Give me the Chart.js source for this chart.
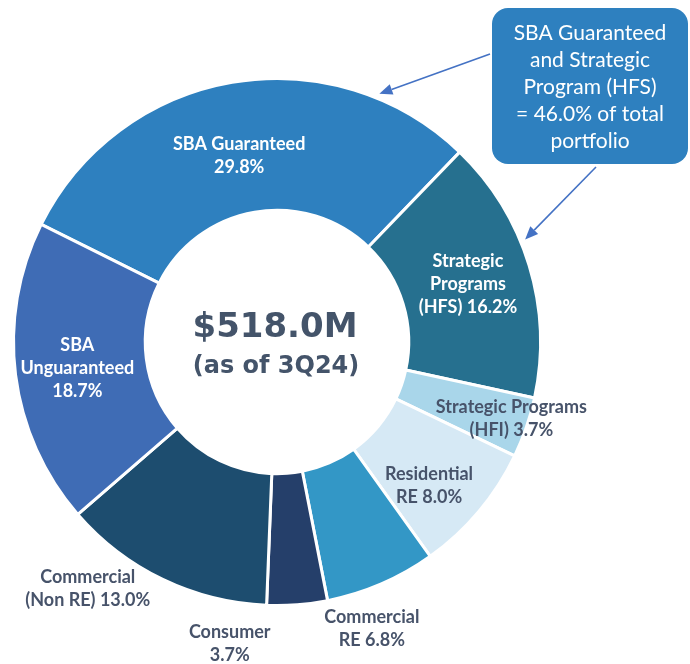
<!DOCTYPE html>
<html>
<head>
<meta charset="utf-8">
<title>Loan portfolio mix</title>
<script src="https://cdn.jsdelivr.net/npm/chart.js@4.4.1/dist/chart.umd.min.js"></script>
<style>
  html,body{margin:0;padding:0;background:#fff;}
  #wrap{width:690px;height:664px;position:relative;}
</style>
</head>
<body>
<div id="wrap"><canvas id="mix"></canvas></div>
<script>
// ---- data ----
const segments = ['SBA Guaranteed', 'Strategic Programs (HFS)', 'Strategic Programs (HFI)', 'Residential RE',
                  'Commercial RE', 'Consumer', 'Commercial (Non RE)', 'SBA Unguaranteed'];
const shares   = [29.8, 16.2, 3.7, 8.0, 6.8, 3.7, 13.0, 18.7];
const colors   = ['#2E80BF', '#26708F', '#A9D6EA', '#D6E9F5', '#3397C6', '#253F6A', '#1D4D6F', '#3F6CB5'];
// how each label is broken into lines ({v} = the share)
const labelLines = [
  ['SBA Guaranteed', '{v}'],
  ['Strategic', 'Programs', '(HFS) {v}'],
  ['Strategic Programs', '(HFI) {v}'],
  ['Residential', 'RE {v}'],
  ['Commercial', 'RE {v}'],
  ['Consumer', '{v}'],
  ['Commercial', '(Non RE) {v}'],
  ['SBA', 'Unguaranteed', '{v}']
];
const totalText = '$518.0M';
const asOfText  = '(as of 3Q24)';

// ---- label placement: r = fraction of outer radius, da = degrees off the slice middle ----
const labelPlace = [
  {r:0.72,  da:-1.7, light:true},
  {r:0.757, da:0.1,  light:true},
  {r:0.936, da:-0.8, light:false},
  {r:0.793, da:3.3,  light:false},
  {r:1.145, da:5,    light:false},
  {r:1.16,  da:13.3, light:false},
  {r:1.18,  da:11.8, light:false},
  {r:0.764, da:-0.2, light:true}
];
const LABEL_FONT = 'bold 18px Lato';
const LINE_H = 23;
const DARK_TXT = '#47536A';

// callout box + arrows
const callout = {x:492, y:8, w:196, h:156, r:16, fill:'#2E80BF'};
const calloutFont = '21px Lato';
const arrows = [
  {seg:0, frac:0.80, tail:{side:'left', at:46}},   // tail at box left edge, 46px down
  {seg:1, frac:0.405, tail:{side:'bottom', at:104}} // tail at box bottom edge, 104px across
];
const ARROW_COL = '#4472C4';

const fmt = v => v.toFixed(1) + '%';
const rad = d => d * Math.PI / 180;

// Labels + centre text + callout
const decorations = {
  id: 'decorations',
  afterDraw(chart){
    const {ctx} = chart;
    const arcs = chart.getDatasetMeta(0).data;
    const cx = arcs[0].x, cy = arcs[0].y, R = arcs[0].outerRadius;
    ctx.save();
    ctx.textAlign = 'center';
    ctx.textBaseline = 'middle';

    // slice labels
    ctx.font = LABEL_FONT;
    arcs.forEach((a, i)=>{
      const p = labelPlace[i];
      const ang = (a.startAngle + a.endAngle) / 2 + rad(p.da);
      const x = cx + R * p.r * Math.cos(ang);
      const y = cy + R * p.r * Math.sin(ang);
      const lines = labelLines[i].map(s => s.replace('{v}', fmt(shares[i])));
      ctx.fillStyle = p.light ? '#FFFFFF' : DARK_TXT;
      const y0 = y - (lines.length - 1) * LINE_H / 2;
      lines.forEach((s, k)=> ctx.fillText(s, x, y0 + k * LINE_H));
    });

    // centre
    ctx.fillStyle = '#44546A';
    ctx.font = 'bold 34px "DejaVu Sans"';
    ctx.fillText(totalText, cx - 2, cy - 14);
    ctx.font = 'bold 24px "DejaVu Sans"';
    ctx.fillText(asOfText, cx - 1, cy + 25);

    // callout box
    const b = callout;
    ctx.fillStyle = b.fill;
    ctx.beginPath();
    ctx.roundRect(b.x, b.y, b.w, b.h, b.r);
    ctx.fill();
    const combo = fmt(shares[0] + shares[1]);
    const boxLines = ['SBA Guaranteed', 'and Strategic', 'Program (HFS)', '= ' + combo + ' of total', 'portfolio'];
    ctx.fillStyle = '#FFFFFF';
    ctx.font = calloutFont;
    boxLines.forEach((s, k)=> ctx.fillText(s, b.x + b.w / 2, b.y + 25 + k * 27));

    // arrows from the box to the two slices
    ctx.strokeStyle = ARROW_COL;
    ctx.fillStyle = ARROW_COL;
    ctx.lineWidth = 1.6;
    arrows.forEach(ar=>{
      const a = arcs[ar.seg];
      const ang = a.startAngle + (a.endAngle - a.startAngle) * ar.frac;
      const tx = cx + (R + 5) * Math.cos(ang), ty = cy + (R + 5) * Math.sin(ang);
      const sx = ar.tail.side === 'left' ? b.x - 2 : b.x + ar.tail.at;
      const sy = ar.tail.side === 'left' ? b.y + ar.tail.at : b.y + b.h + 3;
      const th = Math.atan2(ty - sy, tx - sx);
      const hl = 13, hw = 5.5;
      const bx = tx - hl * Math.cos(th), by = ty - hl * Math.sin(th);
      ctx.beginPath();
      ctx.moveTo(sx, sy); ctx.lineTo(bx, by); ctx.stroke();
      ctx.beginPath();
      ctx.moveTo(tx, ty);
      ctx.lineTo(bx + hw * Math.sin(th), by - hw * Math.cos(th));
      ctx.lineTo(bx - hw * Math.sin(th), by + hw * Math.cos(th));
      ctx.closePath(); ctx.fill();
    });
    ctx.restore();
  }
};

new Chart(document.getElementById('mix'), {
  type: 'doughnut',
  data: {
    labels: segments,
    datasets: [{
      data: shares,
      backgroundColor: colors,
      borderColor: '#FFFFFF',
      borderWidth: 3
    }]
  },
  options: {
    responsive: true,
    maintainAspectRatio: false,
    animation: false,
    rotation: -63.5,
    cutout: '50%',
    layout: {padding: {left: 12, top: 77, right: 148, bottom: 57}},
    plugins: {legend: {display: false}, tooltip: {enabled: false}}
  },
  plugins: [decorations]
});
</script>
</body>
</html>
